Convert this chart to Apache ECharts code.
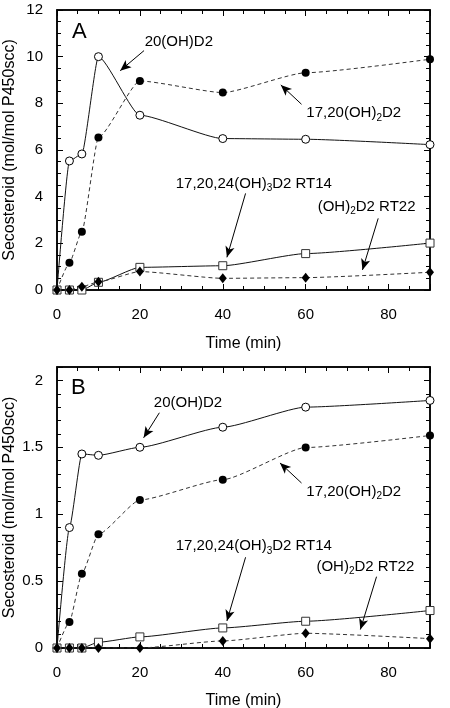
<!DOCTYPE html>
<html>
<head>
<meta charset="utf-8">
<script src="https://cdn.jsdelivr.net/npm/echarts@6/dist/echarts.min.js"></script>
<style>html,body{margin:0;padding:0;background:#fff;}#c{width:450px;height:708px;}</style>
</head>
<body>
<div id="c"></div>
<script>
// ---- data ----
const times = [0, 3, 6, 10, 20, 40, 60, 90];
// Panel A
const a_20OH = [0, 5.53, 5.83, 10.0, 7.49, 6.49, 6.46, 6.23];
const a_1720 = [0, 1.17, 2.50, 6.54, 8.96, 8.46, 9.31, 9.89];
const a_RT14 = [0, 0, 0, 0.33, 0.97, 1.04, 1.56, 2.01];
const a_RT22 = [0, 0, 0.14, 0.35, 0.79, 0.50, 0.53, 0.76];
// Panel B
const b_20OH = [0, 0.90, 1.45, 1.44, 1.50, 1.65, 1.80, 1.85];
const b_1720 = [0, 0.195, 0.555, 0.85, 1.106, 1.258, 1.498, 1.588];
const b_RT14 = [0, 0, 0, 0.043, 0.083, 0.15, 0.20, 0.28];
const b_RT22 = [0, 0, 0, 0, 0, 0.053, 0.11, 0.07];

const seriesNames = ['20(OH)D2', '17,20(OH)2D2', '17,20,24(OH)3D2 RT14', '(OH)2D2 RT22'];
const annotLabels = ['20(OH)D2', '17,20(OH){s|2}D2', '17,20,24(OH){s|3}D2 RT14', '(OH){s|2}D2 RT22'];
const annotTextA = [[29.4, 10.63], [71.6, 7.59], [47.5, 4.57], [74.7, 3.57]];
const arrowFromA = [[21.0, 10.26], [59.0, 7.96], [45.5, 4.14], [77.5, 3.07]];
const arrowToA   = [[15.25, 9.40], [54.0, 8.79], [41.0, 1.40], [73.7, 0.86]];
const annotTextB = [[31.6, 1.833], [71.6, 1.170], [47.5, 0.763], [74.4, 0.608]];
const arrowFromB = [[24.7, 1.758], [59.0, 1.233], [45.5, 0.678], [77.1, 0.533]];
const arrowToB   = [[20.9, 1.571], [53.8, 1.383], [41.0, 0.2025], [73.2, 0.138]];

const xTicks = {min: 0, max: 90, interval: 20};
const yTicksA = {min: 0, max: 12, interval: 2};
const yTicksB = {min: 0, max: 2.1, interval: 0.5};

const FONT = 'Liberation Sans, Arial, Helvetica, sans-serif';
const rich = {s: {fontSize: 10, lineHeight: 8, verticalAlign: 'bottom', fontFamily: FONT, color: '#000'}};
const TICKC = '#000';

function xAx(grid, pos, showLabel, gap) {
  return {
    type: 'value', gridIndex: grid, position: pos,
    min: xTicks.min, max: xTicks.max, interval: xTicks.interval,
    axisLine: {show: true, onZero: false, lineStyle: {color: '#000', width: 1.5}},
    axisTick: {show: true, inside: false, length: -6, lineStyle: {color: TICKC, width: 1}},
    minorTick: {show: true, splitNumber: 4, length: -4, lineStyle: {color: TICKC, width: 1}},
    splitLine: {show: false}, minorSplitLine: {show: false},
    axisLabel: {show: showLabel, showMaxLabel: false, margin: 17, fontSize: 15, color: '#000', fontFamily: FONT},
    name: showLabel ? 'Time (min)' : '', nameLocation: 'middle', nameGap: gap, nameMoveOverlap: false,
    nameTextStyle: {fontSize: 16, color: '#000', fontFamily: FONT}
  };
}
function yAx(grid, pos, showLabel, t, minorSplit, fmt) {
  return {
    type: 'value', gridIndex: grid, position: pos,
    min: t.min, max: t.max, interval: t.interval,
    axisLine: {show: true, onZero: false, lineStyle: {color: '#000', width: 1.5}},
    axisTick: {show: true, inside: false, length: -6, lineStyle: {color: TICKC, width: 1}},
    minorTick: {show: true, splitNumber: minorSplit, length: -4, lineStyle: {color: TICKC, width: 1}},
    splitLine: {show: false}, minorSplitLine: {show: false},
    axisLabel: {show: showLabel, showMaxLabel: t.max % t.interval === 0, margin: 14, fontSize: 15, color: '#000', fontFamily: FONT, formatter: fmt},
    name: showLabel ? 'Secosteroid (mol/mol P450scc)' : '', nameLocation: 'middle', nameGap: 39, nameMoveOverlap: false,
    nameTextStyle: {fontSize: 16, color: '#000', fontFamily: FONT}
  };
}

const styles = [
  {symbol: 'circle', symbolSize: 8, item: {color: '#fff', borderColor: '#000', borderWidth: 1}, line: {color: '#111', width: 1, type: 'solid'}},
  {symbol: 'circle', symbolSize: 8, item: {color: '#000', borderColor: '#000', borderWidth: 0}, line: {color: '#333', width: 1, type: [4, 3]}},
  {symbol: 'rect', symbolSize: 8, item: {color: '#fff', borderColor: '#333', borderWidth: 1}, line: {color: '#111', width: 1, type: 'solid'}},
  {symbol: 'diamond', symbolSize: [8, 10], item: {color: '#000', borderColor: '#000', borderWidth: 0}, line: {color: '#333', width: 1, type: [4, 3]}}
];

function makeSeries(panel, values, texts, froms, tos) {
  return values.map((vals, i) => ({
    type: 'line', name: seriesNames[i] + ' ' + panel,
    xAxisIndex: panel === 'A' ? 0 : 2, yAxisIndex: panel === 'A' ? 0 : 2,
    data: times.map((t, k) => [t, vals[k]]),
    smooth: 0.18, smoothMonotone: 'x',
    symbol: styles[i].symbol, symbolSize: styles[i].symbolSize, showSymbol: true,
    itemStyle: styles[i].item, lineStyle: styles[i].line,
    emphasis: {disabled: true}, animation: false, z: 3,
    markLine: {
      silent: true, animation: false, symbol: ['none', 'arrow'], symbolSize: [7, 11],
      lineStyle: {color: '#000', width: 1, type: 'solid'}, label: {show: false},
      data: [[{coord: froms[i]}, {coord: tos[i]}]]
    },
    markPoint: {
      silent: true, animation: false, symbol: 'circle', symbolSize: 0,
      label: {show: true, position: 'inside', formatter: annotLabels[i], color: '#000', fontSize: 15,
              fontFamily: FONT, lineHeight: 20, rich: rich},
      itemStyle: {color: 'transparent'},
      data: [{coord: texts[i]}]
    }
  }));
}

const option = {
  backgroundColor: '#fff',
  animation: false,
  grid: [
    {left: 57, right: 20, top: 10, height: 280, show: true, borderColor: '#000', borderWidth: 1.5, backgroundColor: 'transparent', containLabel: false, outerBoundsMode: 'none'},
    {left: 57, right: 20, top: 367, height: 281, show: true, borderColor: '#000', borderWidth: 1.5, backgroundColor: 'transparent', containLabel: false, outerBoundsMode: 'none'}
  ],
  xAxis: [xAx(0, 'bottom', true, 45.5), xAx(0, 'top', false, 0), xAx(1, 'bottom', true, 44.5), xAx(1, 'top', false, 0)],
  yAxis: [
    yAx(0, 'left', true, yTicksA, 4),
    yAx(0, 'right', false, yTicksA, 4),
    yAx(1, 'left', true, yTicksB, 5, v => (v === 0 ? '0' : String(v))),
    yAx(1, 'right', false, yTicksB, 5)
  ],
  graphic: [
    {type: 'text', left: 72, top: 21, style: {text: 'A', fontSize: 22, fontFamily: FONT, fill: '#000'}},
    {type: 'text', left: 71, top: 377, style: {text: 'B', fontSize: 22, fontFamily: FONT, fill: '#000'}}
  ],
  series: [
    ...makeSeries('A', [a_20OH, a_1720, a_RT14, a_RT22], annotTextA, arrowFromA, arrowToA),
    ...makeSeries('B', [b_20OH, b_1720, b_RT14, b_RT22], annotTextB, arrowFromB, arrowToB)
  ]
};

const chart = echarts.init(document.getElementById('c'), null, {renderer: 'canvas'});
chart.setOption(option);
</script>
</body>
</html>
